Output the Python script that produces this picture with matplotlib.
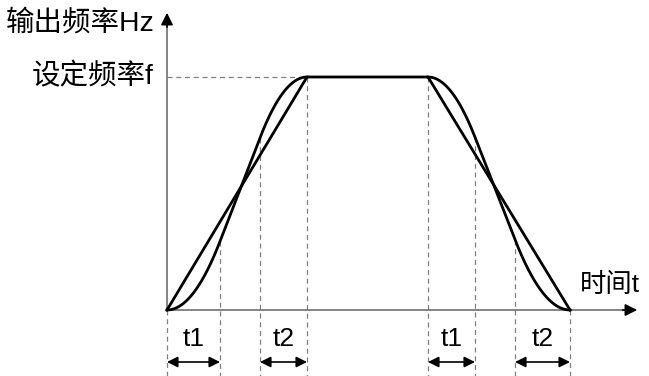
import numpy as np
import matplotlib
matplotlib.use("Agg")
from matplotlib import pyplot as plt

plt.rcParams['font.family'] = ['Liberation Sans', 'Noto Sans CJK SC', 'DejaVu Sans']

# key times (arbitrary units) and set frequency
acc_times = [0, 53, 93, 140]      # start, end t1, start t2, end of accel
dec_times = [261, 308, 348, 403]  # start decel, end t1, start t2, end
f_set = 233
x_end = 473
y_end = 300

y_label = "输出频率Hz"
f_label = "设定频率f"
x_label = "时间t"
seg_labels = ["t1", "t2", "t1", "t2"]


def s_ramp(t, t0, a, b, T, f):
    # quadratic - linear - quadratic ramp from 0 to f over [t0, t0+T]
    u = np.clip(t - t0, 0, T)
    s = 2 * f / (T + b - a)
    y = np.where(u < a, s * u**2 / (2 * a), 0.0)
    y = np.where((u >= a) & (u < b), s * a / 2 + s * (u - a), y)
    y = np.where(u >= b, f - s * (T - u)**2 / (2 * (T - b)), y)
    return y


fig = plt.figure(figsize=(6.49, 3.76), dpi=100)
ax = fig.add_axes([0, 0, 1, 1])
ax.set_xlim(-167, 482)
ax.set_ylim(-66, 310)
ax.axis('off')

a0, a1, a2, a3 = acc_times
d0, d1, d2, d3 = dec_times

# linear profile
ax.plot([a0, a3, d0, d3], [0, f_set, f_set, 0], color='black', lw=2.0,
        solid_joinstyle='round', zorder=3)

# s-curve profile
t = np.linspace(a0, a3, 300)
ax.plot(t, s_ramp(t, a0, a1 - a0, a2 - a0, a3 - a0, f_set), color='black', lw=2.0, zorder=3)
t = np.linspace(d0, d3, 300)
ax.plot(t, f_set - s_ramp(t, d0, d1 - d0, d2 - d0, d3 - d0, f_set), color='black', lw=2.0, zorder=3)

# dashed guides
dash = dict(color='#808080', lw=0.9, ls=(0, (4, 3)), zorder=1)
ybot = -66
ax.plot([a0, a3], [f_set, f_set], **dash)
ax.plot([a0, a0], [0, ybot], **dash)
for x in acc_times[1:]:
    y = s_ramp(np.array([x]), a0, a1 - a0, a2 - a0, a3 - a0, f_set)[0]
    ax.plot([x, x], [y, ybot], **dash)
for x in dec_times:
    y = f_set - s_ramp(np.array([x]), d0, d1 - d0, d2 - d0, d3 - d0, f_set)[0]
    ax.plot([x, x], [y, ybot], **dash)

# axes with arrows
ax.plot([0, 0], [0, y_end - 16], color='#707070', lw=1.2, zorder=2)
ax.plot([0, x_end - 16], [0, 0], color='#707070', lw=1.2, zorder=2)
ax.annotate('', xy=(0, y_end), xytext=(0, y_end - 20),
            arrowprops=dict(arrowstyle='-|>', color='black', lw=1.2, mutation_scale=18))
ax.annotate('', xy=(x_end, 0), xytext=(x_end - 20, 0),
            arrowprops=dict(arrowstyle='-|>', color='black', lw=1.2, mutation_scale=18))

# labels
ax.text(-12, 287, y_label, ha='right', va='center', fontsize=20.5)
ax.text(-13, f_set, f_label, ha='right', va='center', fontsize=20.5)
ax.text(x_end, 25, x_label, ha='right', va='center', fontsize=19)

# interval arrows
pairs = [(a0, a1), (a2, a3), (d0, d1), (d2, d3)]
for (x0, x1), lab in zip(pairs, seg_labels):
    ax.text((x0 + x1) / 2, -29, lab, ha='center', va='center', fontsize=19)
    ax.annotate('', xy=(x0, -52), xytext=(x1, -52),
                arrowprops=dict(arrowstyle='<|-|>', color='black', lw=1.2,
                                mutation_scale=16, shrinkA=0, shrinkB=0))

fig.savefig('out.png', dpi=100)
